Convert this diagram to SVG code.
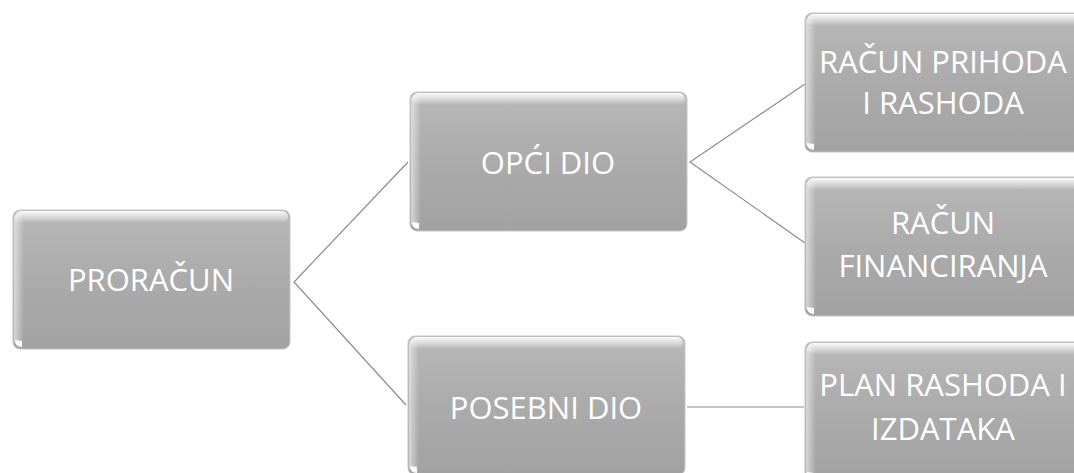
<svg xmlns="http://www.w3.org/2000/svg" width="1074" height="473" viewBox="0 0 1074 473">
<defs>
<linearGradient id="body" x1="0" y1="0" x2="0" y2="1">
<stop offset="0" stop-color="#b8b8b8"/>
<stop offset="0.5" stop-color="#ababab"/>
<stop offset="1" stop-color="#a2a2a2"/>
</linearGradient>
<linearGradient id="top" x1="0" y1="0" x2="0" y2="1">
<stop offset="0" stop-color="#ffffff" stop-opacity="0.95"/>
<stop offset="1" stop-color="#ffffff" stop-opacity="0"/>
</linearGradient>
<linearGradient id="left" x1="0" y1="0" x2="1" y2="0">
<stop offset="0" stop-color="#ffffff" stop-opacity="0.55"/>
<stop offset="1" stop-color="#ffffff" stop-opacity="0"/>
</linearGradient>
<g id="box">
<rect x="0" y="0" width="277" height="139" rx="7" fill="url(#body)" stroke="#c6c6c6" stroke-width="1"/>
<rect x="2" y="1" width="273" height="12" rx="6" fill="url(#top)"/>
<rect x="1" y="4" width="10" height="130" rx="4" fill="url(#left)"/>
<path d="M2 130 q0 7 7 7 l0 -6 z" fill="#ffffff"/>
</g>
</defs>
<style>
.lbl{font-family:"Open Sans","Liberation Sans",sans-serif;font-size:31px;font-weight:500;fill:#ffffff;text-anchor:middle;dominant-baseline:central}
.con{stroke:#8c8c8c;stroke-width:1.2;fill:none}
</style>
<rect width="1074" height="473" fill="#ffffff"/>
<g id="connectors">
<polyline class="con" points="408,162 294,282 406,405"/>
<polyline class="con" points="805,84 690,162 805,243"/>
<line class="con" x1="687" y1="407" x2="804" y2="407"/>
</g>
<g id="proracun">
<use href="#box" x="13" y="210"/>
<text class="lbl" x="151" y="279">PRORAČUN</text>
</g>
<g id="opci-dio">
<use href="#box" x="410" y="92"/>
<text class="lbl" x="548" y="162">OPĆI DIO</text>
</g>
<g id="posebni-dio">
<use href="#box" x="408" y="336"/>
<text class="lbl" x="546" y="407">POSEBNI DIO</text>
</g>
<g id="racun-prihoda">
<use href="#box" x="805" y="13"/>
<text class="lbl" x="943" y="61">RAČUN PRIHODA</text>
<text class="lbl" x="943" y="102">I RASHODA</text>
</g>
<g id="racun-financiranja">
<use href="#box" x="805" y="177"/>
<text class="lbl" x="943" y="222">RAČUN</text>
<text class="lbl" x="943" y="265">FINANCIRANJA</text>
</g>
<g id="plan-rashoda">
<use href="#box" x="805" y="342"/>
<text class="lbl" x="943" y="384">PLAN RASHODA I</text>
<text class="lbl" x="943" y="428">IZDATAKA</text>
</g>
</svg>
